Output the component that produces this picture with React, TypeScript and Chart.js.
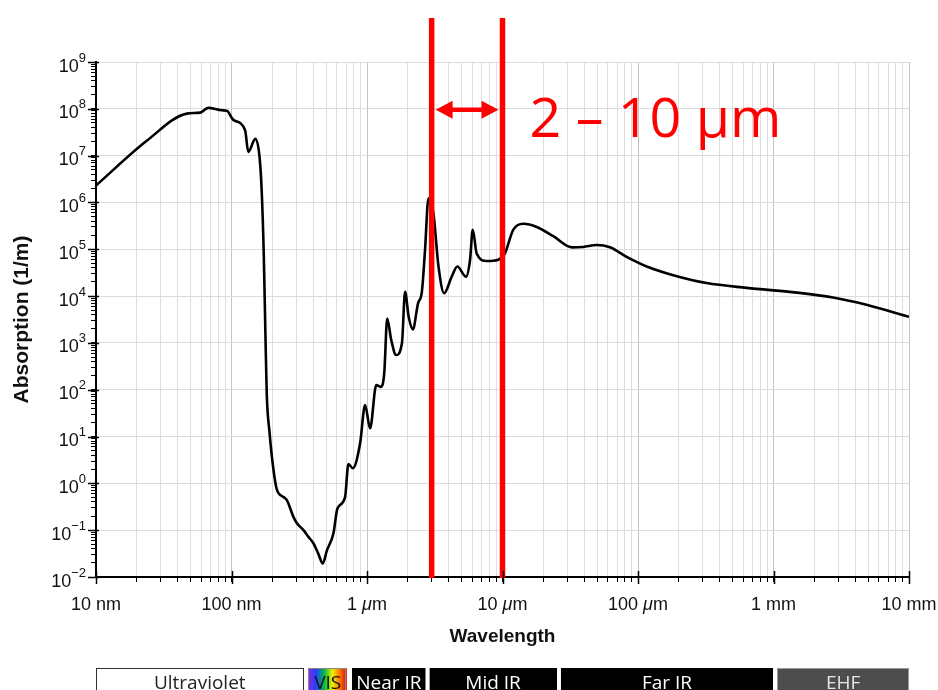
import { useEffect, useRef } from "react";
import { Chart, registerables } from "chart.js";

Chart.register(...registerables);

// ---- data (wavelength in metres, absorption coefficient in 1/m) ----
const wavelengths = [
  1e-8, 2.38e-8, 4.69e-8, 5.87e-8, 6.73e-8, 8.49e-8, 9.24e-8, 1.03e-7, 1.26e-7, 1.33e-7,
  1.5e-7, 1.61e-7, 1.67e-7, 1.73e-7, 1.78e-7, 1.82e-7, 1.91e-7, 2.03e-7, 2.16e-7, 2.42e-7,
  2.56e-7, 2.87e-7, 3.04e-7, 3.4e-7, 3.7e-7, 4.03e-7, 4.36e-7, 4.72e-7, 5.06e-7, 5.65e-7,
  6.05e-7, 6.89e-7, 7.29e-7, 7.86e-7, 8.89e-7, 9.68e-7, 1.054e-6, 1.17e-6, 1.26e-6, 1.34e-6,
  1.41e-6, 1.51e-6, 1.64e-6, 1.81e-6, 1.91e-6, 2.03e-6, 2.18e-6, 2.38e-6, 2.54e-6, 2.68e-6,
  2.84e-6, 3.09e-6, 3.37e-6, 3.71e-6, 4.22e-6, 4.64e-6, 5.38e-6, 5.76e-6, 6.03e-6, 6.45e-6,
  7.64e-6, 9.31e-6, 1.04e-5, 1.2e-5, 1.42e-5, 1.79e-5, 2.37e-5, 3.24e-5, 3.94e-5, 4.95e-5,
  6.21e-5, 8.24e-5, 1.16e-4, 1.82e-4, 3.21e-4, 6.32e-4, 1.56e-3, 2.75e-3, 4.85e-3, 1e-2,
];
const absorption = [
  2.3e6, 2.1e7, 7.9e7, 8.3e7, 1.05e8, 9.3e7, 9.1e7, 5.8e7, 3.5e7, 1.2e7,
  2.3e7, 9.5e6, 1.8e6, 8e4, 1.5e3, 83, 12, 2.2, 0.74, 0.51,
  0.44, 0.19, 0.14, 0.1, 0.072, 0.052, 0.032, 0.0195, 0.037, 0.085,
  0.29, 0.51, 2.6, 2.1, 7.1, 47, 15, 126, 115, 224,
  3300, 1150, 550, 980, 1.23e4, 3600, 1950, 7000, 1.23e4, 9.5e4,
  1.23e6, 5.9e5, 4.3e4, 1.15e4, 2.6e4, 4.3e4, 2.6e4, 5.9e4, 2.6e5, 8.1e4,
  5.6e4, 6.0e4, 8.1e4, 2.6e5, 3.5e5, 3.0e5, 1.9e5, 1.1e5, 1.12e5, 1.23e5,
  1.1e5, 6.9e4, 4.3e4, 2.8e4, 1.9e4, 1.5e4, 1.17e4, 9.3e3, 6.5e3, 3.6e3,
];

const xDecades = [1e-8, 1e-7, 1e-6, 1e-5, 1e-4, 1e-3, 1e-2];
const xDecadeNumbers = ["10", "100", "1", "10", "100", "1", "10"];
const xDecadeUnits = ["nm", "nm", "\u03bcm", "\u03bcm", "\u03bcm", "mm", "mm"];
const yDecades = [1e-2, 1e-1, 1e0, 1e1, 1e2, 1e3, 1e4, 1e5, 1e6, 1e7, 1e8, 1e9];
const yDecadeExponents = ["\u22122", "\u22121", "0", "1", "2", "3", "4", "5", "6", "7", "8", "9"];

const markerWavelengths = [3e-6, 1e-5];
const markerArrowLevel = 1e8;
const markerLabel = "2 \u2013 10 \u03bcm";

const bandNames = ["Ultraviolet", "VIS", "Near IR", "Mid IR", "Far IR", "EHF"];
const bandStarts = [1e-8, 3.7e-7, 7.8e-7, 2.9e-6, 2.7e-5, 1.07e-3];
const bandEnds = [3.4e-7, 7.1e-7, 2.7e-6, 2.5e-5, 9.9e-4, 1e-2];
const bandFills = ["#ffffff", "rainbow", "#000000", "#000000", "#000000", "#4d4d4d"];
const bandTextColors = ["#222222", "#111111", "#ffffff", "#ffffff", "#ffffff", "#e6e6e6"];
const bandBorders = ["#333333", "#888888", "#000000", "#000000", "#000000", "#999999"];

// ---- helpers ----
const isDecade = (v: number) => Math.abs(Math.log10(v) - Math.round(Math.log10(v))) < 1e-6;
const withMinors = (decades: number[]) => {
  const out: { value: number }[] = [];
  decades.forEach((d, i) => {
    if (i === decades.length - 1) {
      out.push({ value: d });
      return;
    }
    for (let m = 1; m <= 9; m++) out.push({ value: Number((m * d).toPrecision(6)) });
  });
  return out;
};

const FONT = '"Liberation Sans", Arial, sans-serif';

const overlayPlugin = {
  id: "overlay",
  afterDatasetsDraw(chart: any) {
    const { ctx, chartArea, scales } = chart;
    const xs = scales.x;
    const ys = scales.y;
    const px = markerWavelengths.map((w) => xs.getPixelForValue(w));
    ctx.save();
    ctx.strokeStyle = "#ff0000";
    ctx.fillStyle = "#ff0000";
    ctx.lineWidth = 5.5;
    px.forEach((p: number) => {
      ctx.beginPath();
      ctx.moveTo(p, 18);
      ctx.lineTo(p, chartArea.bottom + 1);
      ctx.stroke();
    });
    // double arrow
    const ay = ys.getPixelForValue(markerArrowLevel) + 1;
    const l = px[0] + 4;
    const r = px[1] - 4;
    ctx.lineWidth = 4.5;
    ctx.beginPath();
    ctx.moveTo(l + 12, ay);
    ctx.lineTo(r - 12, ay);
    ctx.stroke();
    ctx.beginPath();
    ctx.moveTo(l, ay);
    ctx.lineTo(l + 17, ay - 9);
    ctx.lineTo(l + 17, ay + 9);
    ctx.closePath();
    ctx.fill();
    ctx.beginPath();
    ctx.moveTo(r, ay);
    ctx.lineTo(r - 17, ay - 9);
    ctx.lineTo(r - 17, ay + 9);
    ctx.closePath();
    ctx.fill();
    // label
    ctx.font = '55.5px "Open Sans", sans-serif';
    ctx.textBaseline = "alphabetic";
    ctx.textAlign = "left";
    ctx.fillText(markerLabel, px[1] + 27, 137);
    ctx.restore();
  },
  afterDraw(chart: any) {
    const { ctx, chartArea } = chart;
    const xs = chart.scales.x;
    const ys = chart.scales.y;
    ctx.save();

    // major tick marks (longer, crossing the axis)
    ctx.strokeStyle = "#000000";
    ctx.lineWidth = 1.5;
    yDecades.forEach((d) => {
      const py = Math.round(ys.getPixelForValue(d)) + 0.5;
      ctx.beginPath();
      ctx.moveTo(chartArea.left - 8, py);
      ctx.lineTo(chartArea.left + 3, py);
      ctx.stroke();
    });
    xDecades.forEach((d) => {
      const px = Math.round(xs.getPixelForValue(d)) + 0.5;
      ctx.beginPath();
      ctx.moveTo(px, chartArea.bottom - 6);
      ctx.lineTo(px, chartArea.bottom + 7);
      ctx.stroke();
    });

    // y tick labels: 10 with superscript exponent
    ctx.fillStyle = "#111111";
    ctx.textBaseline = "alphabetic";
    yDecades.forEach((d, i) => {
      const py = ys.getPixelForValue(d);
      const right = chartArea.left - 10;
      ctx.font = `13px ${FONT}`;
      const ew = ctx.measureText(yDecadeExponents[i]).width;
      ctx.textAlign = "left";
      ctx.fillText(yDecadeExponents[i], right - ew, py - 0.5);
      ctx.font = `18px ${FONT}`;
      ctx.textAlign = "right";
      ctx.fillText("10", right - ew, py + 9.5);
    });

    // x tick labels with italic micro sign
    xDecades.forEach((d, i) => {
      const px = xs.getPixelForValue(d);
      const num = xDecadeNumbers[i] + " ";
      const unit = xDecadeUnits[i];
      const italic = unit.startsWith("\u03bc");
      const rest = italic ? unit.slice(1) : unit;
      ctx.font = `18px ${FONT}`;
      const wNum = ctx.measureText(num).width;
      const wRest = ctx.measureText(rest).width;
      ctx.font = `italic 18px ${FONT}`;
      const wMu = italic ? ctx.measureText("\u03bc").width : 0;
      const total = wNum + wMu + wRest;
      let cx = px - total / 2;
      const by = chartArea.bottom + 33;
      ctx.textAlign = "left";
      ctx.font = `18px ${FONT}`;
      ctx.fillText(num, cx, by);
      cx += wNum;
      if (italic) {
        ctx.font = `italic 18px ${FONT}`;
        ctx.fillText("\u03bc", cx, by);
        cx += wMu;
      }
      ctx.font = `18px ${FONT}`;
      ctx.fillText(rest, cx, by);
    });

    // spectral band bar
    const top = 668;
    const h = 28;
    bandNames.forEach((name, i) => {
      const x0 = xs.getPixelForValue(bandStarts[i]);
      const x1 = xs.getPixelForValue(bandEnds[i]);
      let fill: any = bandFills[i];
      if (fill === "rainbow") {
        const g = ctx.createLinearGradient(x0, 0, x1, 0);
        g.addColorStop(0, "#8a2be2");
        g.addColorStop(0.2, "#2040ff");
        g.addColorStop(0.42, "#00c040");
        g.addColorStop(0.62, "#f0f000");
        g.addColorStop(0.8, "#ff8000");
        g.addColorStop(1, "#e00000");
        fill = g;
      }
      ctx.fillStyle = fill;
      ctx.fillRect(x0, top, x1 - x0, h);
      ctx.strokeStyle = bandBorders[i];
      ctx.lineWidth = 1;
      ctx.strokeRect(Math.round(x0) + 0.5, top + 0.5, Math.round(x1 - x0) - 1, h);
      ctx.fillStyle = bandTextColors[i];
      ctx.font = '19px "Open Sans", sans-serif';
      ctx.textAlign = "center";
      ctx.textBaseline = "alphabetic";
      ctx.fillText(name, (x0 + x1) / 2, 689);
    });
    ctx.restore();
  },
};

export default function App() {
  const ref = useRef<HTMLCanvasElement | null>(null);

  useEffect(() => {
    document.body.style.margin = "0";
    const canvas = ref.current;
    if (!canvas) return;
    const chart = new Chart(canvas, {
      type: "line",
      data: {
        datasets: [
          {
            data: wavelengths.map((w, i) => ({ x: w, y: absorption[i] })),
            borderColor: "#000000",
            borderWidth: 2.6,
            pointRadius: 0,
            fill: false,
            cubicInterpolationMode: "monotone",
          },
        ],
      },
      options: {
        animation: false,
        responsive: false,
        maintainAspectRatio: false,
        devicePixelRatio: 1,
        layout: { padding: { top: 62, right: 29, left: 0, bottom: 40 } },
        plugins: { legend: { display: false }, tooltip: { enabled: false } },
        scales: {
          x: {
            type: "logarithmic",
            min: 1e-8,
            max: 1e-2,
            afterBuildTicks: (scale: any) => {
              scale.ticks = withMinors(xDecades);
            },
            afterFit: (scale: any) => {
              scale.height = 73;
              scale.paddingLeft = 0;
              scale.paddingRight = 0;
            },
            grid: {
              color: (c: any) => (c.tick && isDecade(c.tick.value) ? "#c4c4c4" : "#dedede"),
              lineWidth: 1,
              tickColor: "#000000",
              tickLength: 5,
              drawTicks: true,
            },
            border: { display: true, color: "#000000", width: 2 },
            ticks: { display: false, autoSkip: false },
            title: {
              display: true,
              text: "Wavelength",
              color: "#111111",
              font: { family: FONT, size: 19, weight: "bold" },
              padding: { top: 0, bottom: 2 },
            },
          },
          y: {
            type: "logarithmic",
            min: 1e-2,
            max: 1e9,
            afterBuildTicks: (scale: any) => {
              scale.ticks = withMinors(yDecades);
            },
            afterFit: (scale: any) => {
              scale.width = 96;
              scale.paddingTop = 0;
              scale.paddingBottom = 0;
            },
            grid: {
              color: (c: any) => (c.tick && isDecade(c.tick.value) ? "#dcdcdc" : "rgba(0,0,0,0)"),
              lineWidth: 1,
              tickColor: "#000000",
              tickLength: 5,
            },
            border: { display: true, color: "#000000", width: 2 },
            ticks: { display: false, autoSkip: false },
            title: {
              display: true,
              text: "Absorption (1/m)",
              color: "#111111",
              font: { family: FONT, size: 21, weight: "bold" },
              padding: { top: 10, bottom: 0 },
            },
          },
        },
      },
      plugins: [overlayPlugin],
    } as any);
    return () => chart.destroy();
  }, []);

  return <canvas ref={ref} width={938} height={690} style={{ display: "block" }} />;
}
